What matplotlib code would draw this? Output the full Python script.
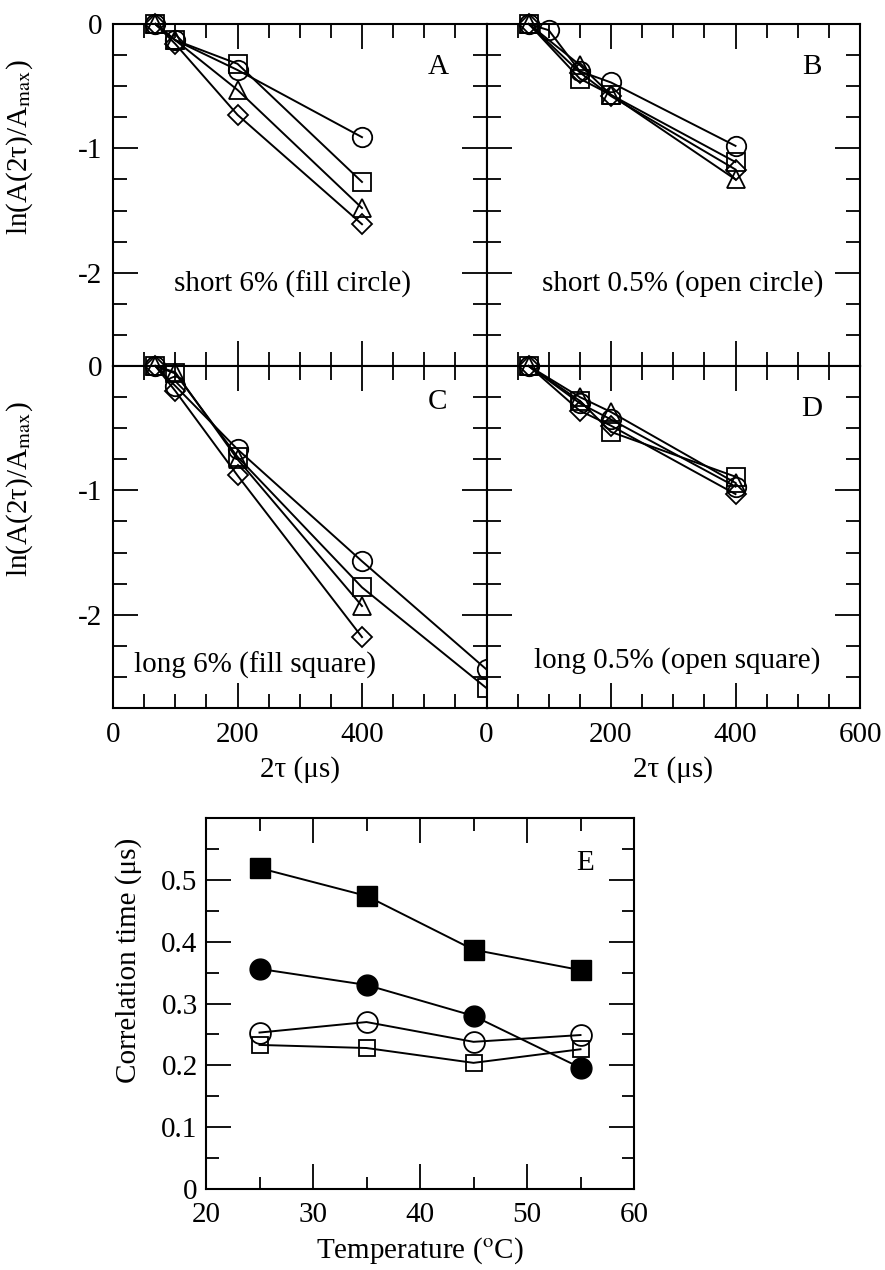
import matplotlib
matplotlib.use("Agg")
import matplotlib.pyplot as plt
from matplotlib.ticker import MultipleLocator, FixedLocator

plt.rcParams['font.family'] = ['Liberation Serif', 'DejaVu Serif']
plt.rcParams['mathtext.fontset'] = 'stix'
plt.rcParams['axes.unicode_minus'] = False
plt.rcParams['font.size'] = 20

# ---- panels A-D : ln(A(2tau)/Amax) vs 2tau (us)
# A: short 6%
a_x = [68, 100, 200, 400]
a_circle = [0, -0.13, -0.37, -0.91]
a_square = [0, -0.13, -0.32, -1.27]
a_triangle = [0, -0.13, -0.53, -1.48]
a_diamond = [0, -0.16, -0.73, -1.61]

# B: short 0.5%
b_x = [68, 150, 200, 400]
b_x_circle = [68, 100, 150, 200, 400]
b_circle = [0, -0.05, -0.38, -0.47, -0.98]
b_square = [0, -0.44, -0.57, -1.11]
b_triangle = [0, -0.33, -0.57, -1.25]
b_diamond = [0, -0.39, -0.58, -1.17]

# C: long 6%
c_x = [68, 100, 200, 400]
c_x_long = [68, 100, 200, 400, 600]
c_circle = [0, -0.16, -0.67, -1.57, -2.44]
c_square = [0, -0.06, -0.73, -1.78, -2.59]
c_triangle = [0, -0.05, -0.75, -1.93]
c_diamond = [0, -0.2, -0.88, -2.18]

# D: long 0.5%
d_x = [68, 150, 200, 400]
d_circle = [0, -0.3, -0.43, -0.97]
d_square = [0, -0.28, -0.53, -0.89]
d_triangle = [0, -0.25, -0.37, -0.94]
d_diamond = [0, -0.36, -0.48, -1.03]

# ---- panel E : correlation time vs temperature
temps = [25, 35, 45, 55]
long6 = [0.519, 0.474, 0.387, 0.354]     # fill square
short6 = [0.356, 0.330, 0.280, 0.196]    # fill circle
short05 = [0.253, 0.270, 0.238, 0.249]   # open circle
long05 = [0.233, 0.228, 0.204, 0.226]    # open square

fig = plt.figure(figsize=(8.85, 12.7), dpi=100)

L, R, T, B = 113 / 885, 860 / 885, 1 - 24 / 1270, 1 - 708 / 1270
w = (R - L) / 2
h = (T - B) / 2
axA = fig.add_axes([L, B + h, w, h])
axB = fig.add_axes([L + w, B + h, w, h])
axC = fig.add_axes([L, B, w, h])
axD = fig.add_axes([L + w, B, w, h])
axE = fig.add_axes([206 / 885, 1 - 1189 / 1270, 428 / 885, 371 / 1270])


def series(ax, x, y, m, ms):
    ax.plot(x, y, color='black', lw=1.4, marker=m, ms=ms, mfc='none',
            mec='black', mew=1.3, clip_on=False, zorder=3)


def draw(ax, xs, circ, sq, tri, dia):
    series(ax, xs[0], circ, 'o', 14)
    series(ax, xs[1], sq, 's', 12.5)
    series(ax, xs[2], tri, '^', 13.5)
    series(ax, xs[3], dia, 'D', 10.5)


draw(axA, [a_x] * 4, a_circle, a_square, a_triangle, a_diamond)
draw(axB, [b_x_circle, b_x, b_x, b_x], b_circle, b_square, b_triangle, b_diamond)
draw(axC, [c_x_long, c_x_long, c_x, c_x], c_circle, c_square, c_triangle, c_diamond)
draw(axD, [d_x] * 4, d_circle, d_square, d_triangle, d_diamond)

for ax in (axA, axB, axC, axD):
    ax.set_xlim(0, 600)
    ax.set_ylim(-2.75, 0)
    ax.xaxis.set_major_locator(MultipleLocator(200))
    ax.xaxis.set_minor_locator(MultipleLocator(50))
    ax.yaxis.set_major_locator(FixedLocator([0, -1, -2]))
    ax.yaxis.set_minor_locator(MultipleLocator(0.25))
    ax.tick_params(which='both', direction='in', top=True, right=True,
                   width=1.3, labelsize=21)
    ax.tick_params(which='major', length=18)
    ax.tick_params(which='minor', length=10)
    ax.tick_params(axis='x', pad=10)
    ax.tick_params(axis='y', pad=8)
    for s in ax.spines.values():
        s.set_linewidth(1.5)

for ax in (axA, axB):
    ax.tick_params(labelbottom=False)
for ax in (axB, axD):
    ax.tick_params(labelleft=False)
axC.xaxis.set_major_locator(FixedLocator([0, 200, 400]))
axC.xaxis.set_minor_locator(FixedLocator([50, 100, 150, 250, 300, 350, 450, 500, 550]))

ylab = r'ln(A(2τ)/A$_{\rm max}$)'
for ax in (axA, axC):
    ax.set_ylabel(ylab, fontsize=21)
    ax.yaxis.set_label_coords(-0.21, 0.64)
for ax in (axC, axD):
    ax.set_xlabel('2τ (μs)', fontsize=21, labelpad=6)

panels = [(axA, 'A', 'short 6% (fill circle)', 0.48, 0.24, 0.875),
          (axB, 'B', 'short 0.5% (open circle)', 0.524, 0.24, 0.875),
          (axC, 'C', 'long 6% (fill square)', 0.38, 0.126, 0.894),
          (axD, 'D', 'long 0.5% (open square)', 0.51, 0.14, 0.874)]
for ax, letter, txt, tx, ty, ly in panels:
    ax.text(0.87, ly, letter, transform=ax.transAxes, ha='center', va='center', fontsize=21)
    ax.text(tx, ty, txt, transform=ax.transAxes, ha='center', va='center', fontsize=21)

# panel E
axE.plot(temps, long6, color='black', lw=1.4, marker='s', ms=14, mfc='black', mec='black', zorder=3)
axE.plot(temps, short6, color='black', lw=1.4, marker='o', ms=15, mfc='black', mec='black', zorder=3)
axE.plot(temps, short05, color='black', lw=1.4, marker='o', ms=15, mfc='none', mec='black', mew=1.3, zorder=3)
axE.plot(temps, long05, color='black', lw=1.4, marker='s', ms=12, mfc='none', mec='black', mew=1.3, zorder=3)
axE.set_xlim(20, 60)
axE.set_ylim(0, 0.6)
axE.xaxis.set_major_locator(MultipleLocator(10))
axE.xaxis.set_minor_locator(MultipleLocator(5))
axE.yaxis.set_major_locator(FixedLocator([0, 0.1, 0.2, 0.3, 0.4, 0.5]))
axE.yaxis.set_minor_locator(FixedLocator([0.05, 0.15, 0.25, 0.35, 0.45, 0.55]))
axE.yaxis.set_ticklabels(['0', '0.1', '0.2', '0.3', '0.4', '0.5'])
axE.tick_params(which='both', direction='in', top=True, right=True, width=1.3, labelsize=21)
axE.tick_params(which='major', length=18)
axE.tick_params(which='minor', length=9)
axE.tick_params(axis='x', pad=9)
axE.tick_params(axis='y', pad=6)
for s in axE.spines.values():
    s.set_linewidth(1.5)
axE.text(0.885, 0.88, 'E', transform=axE.transAxes, ha='center', va='center', fontsize=21)
axE.set_ylabel('Correlation time (μs)', fontsize=21)
axE.yaxis.set_label_coords(-0.15, 0.617)
axE.set_xlabel(r'Temperature ($^{\rm o}$C)', fontsize=21, labelpad=6)

fig.savefig('out.png', dpi=100)
